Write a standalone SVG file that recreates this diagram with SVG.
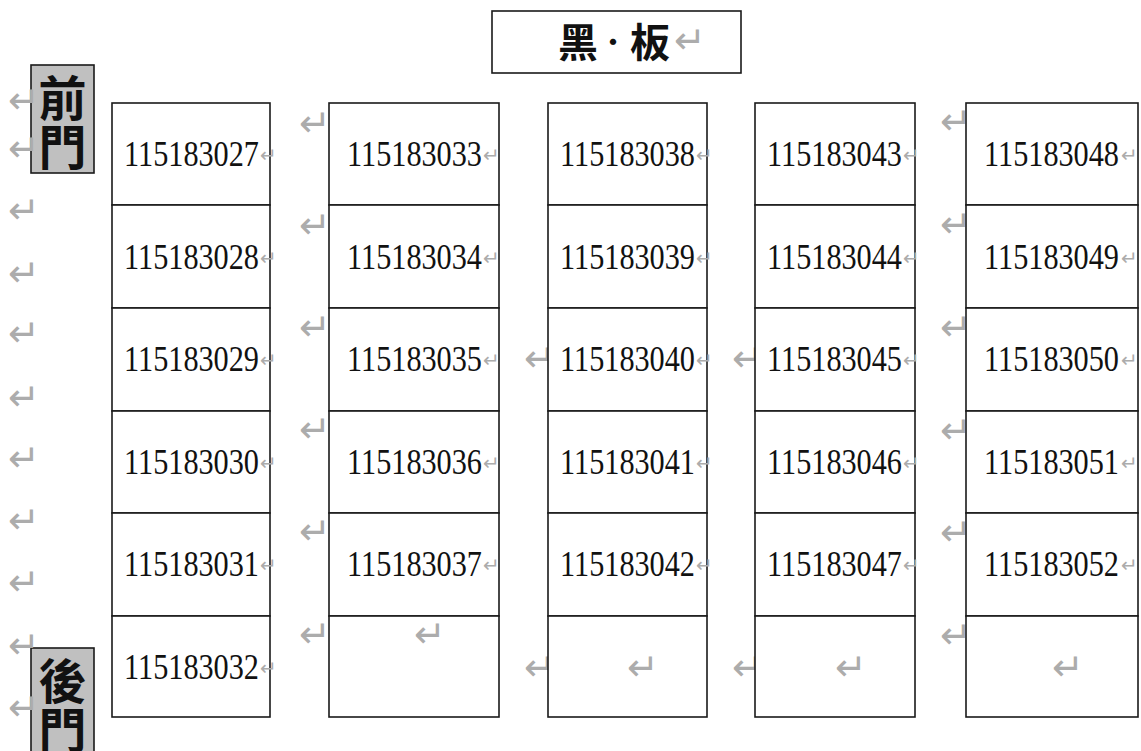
<svg xmlns="http://www.w3.org/2000/svg" width="1141" height="751" viewBox="0 0 1141 751">
<style>
.cell{fill:#fff;stroke:#1a1a1a;stroke-width:1.6}
.door{fill:#c0c0c0;stroke:#1a1a1a;stroke-width:1.6}
.num{font-family:"Liberation Serif",serif;font-size:35px;fill:#111}
.rm{font-family:"DejaVu Sans",sans-serif;font-size:38px;fill:#acacac;dominant-baseline:central}
.rs{font-family:"DejaVu Sans",sans-serif;font-size:20px;fill:#acacac;dominant-baseline:central}
.cjk{font-family:"Noto Sans CJK TC","Noto Sans CJK SC",sans-serif;font-weight:bold;fill:#111}
</style>
<rect width="1141" height="751" fill="#fff"/>
<g id="connectors"/>

<g id="blackboard">
<rect class="cell" x="492" y="11" width="249" height="62"/>
<text class="cjk" font-size="40" y="57"><tspan x="558">黑</tspan><tspan x="598" font-weight="normal" font-size="30" dy="-4">·</tspan><tspan x="630" dy="4">板</tspan></text>
<text class="rm" x="674" y="40" font-size="42">↵</text>
</g>

<g id="front-door">
<rect class="door" x="31" y="65" width="63" height="108"/>
<text class="cjk" font-size="48" text-anchor="middle" x="62.5" y="116">前</text>
<text class="cjk" font-size="48" text-anchor="middle" x="62.5" y="165">門</text>
</g>

<g id="back-door">
<rect class="door" x="31" y="648" width="63" height="120"/>
<text class="cjk" font-size="48" text-anchor="middle" x="62.5" y="699">後</text>
<text class="cjk" font-size="48" text-anchor="middle" x="62.5" y="748">門</text>
</g>

<g id="marks">
<text class="rm" x="8" y="100">↵</text>
<text class="rm" x="8" y="148">↵</text>
<text class="rm" x="8" y="210">↵</text>
<text class="rm" x="8" y="273">↵</text>
<text class="rm" x="8" y="333">↵</text>
<text class="rm" x="8" y="397">↵</text>
<text class="rm" x="8" y="458">↵</text>
<text class="rm" x="8" y="520">↵</text>
<text class="rm" x="8" y="582">↵</text>
<text class="rm" x="8" y="645">↵</text>
<text class="rm" x="8" y="707">↵</text>

<text class="rm" x="299" y="123">↵</text>
<text class="rm" x="299" y="225">↵</text>
<text class="rm" x="299" y="327">↵</text>
<text class="rm" x="299" y="429">↵</text>
<text class="rm" x="299" y="531">↵</text>
<text class="rm" x="299" y="634">↵</text>

<text class="rm" x="940" y="121">↵</text>
<text class="rm" x="940" y="224">↵</text>
<text class="rm" x="940" y="327">↵</text>
<text class="rm" x="940" y="430">↵</text>
<text class="rm" x="940" y="532">↵</text>
<text class="rm" x="940" y="635">↵</text>

<text class="rm" x="524" y="358">↵</text>
<text class="rm" x="732" y="358">↵</text>
<text class="rm" x="524" y="667">↵</text>
<text class="rm" x="732" y="667">↵</text>
</g>

<g id="col1">
<g id="s027"><rect class="cell" x="112" y="103" width="158" height="102"/><text class="num" x="124" y="166" textLength="135" lengthAdjust="spacingAndGlyphs">115183027</text><text class="rs" x="260" y="155">↵</text></g>
<g id="s028"><rect class="cell" x="112" y="205" width="158" height="103"/><text class="num" x="124" y="269" textLength="135" lengthAdjust="spacingAndGlyphs">115183028</text><text class="rs" x="260" y="258">↵</text></g>
<g id="s029"><rect class="cell" x="112" y="308" width="158" height="103"/><text class="num" x="124" y="371" textLength="135" lengthAdjust="spacingAndGlyphs">115183029</text><text class="rs" x="260" y="360">↵</text></g>
<g id="s030"><rect class="cell" x="112" y="411" width="158" height="102"/><text class="num" x="124" y="474" textLength="135" lengthAdjust="spacingAndGlyphs">115183030</text><text class="rs" x="260" y="463">↵</text></g>
<g id="s031"><rect class="cell" x="112" y="513" width="158" height="103"/><text class="num" x="124" y="576" textLength="135" lengthAdjust="spacingAndGlyphs">115183031</text><text class="rs" x="260" y="565">↵</text></g>
<g id="s032"><rect class="cell" x="112" y="616" width="158" height="101"/><text class="num" x="124" y="679" textLength="135" lengthAdjust="spacingAndGlyphs">115183032</text><text class="rs" x="260" y="668">↵</text></g>
</g>

<g id="col2">
<g id="s033"><rect class="cell" x="329" y="103" width="170" height="102"/><text class="num" x="347" y="166" textLength="135" lengthAdjust="spacingAndGlyphs">115183033</text><text class="rs" x="483" y="155">↵</text></g>
<g id="s034"><rect class="cell" x="329" y="205" width="170" height="103"/><text class="num" x="347" y="269" textLength="135" lengthAdjust="spacingAndGlyphs">115183034</text><text class="rs" x="483" y="258">↵</text></g>
<g id="s035"><rect class="cell" x="329" y="308" width="170" height="103"/><text class="num" x="347" y="371" textLength="135" lengthAdjust="spacingAndGlyphs">115183035</text><text class="rs" x="483" y="360">↵</text></g>
<g id="s036"><rect class="cell" x="329" y="411" width="170" height="102"/><text class="num" x="347" y="474" textLength="135" lengthAdjust="spacingAndGlyphs">115183036</text><text class="rs" x="483" y="463">↵</text></g>
<g id="s037"><rect class="cell" x="329" y="513" width="170" height="103"/><text class="num" x="347" y="576" textLength="135" lengthAdjust="spacingAndGlyphs">115183037</text><text class="rs" x="483" y="565">↵</text></g>
<g id="c2e"><rect class="cell" x="329" y="616" width="170" height="101"/><text class="rm" x="414" y="634">↵</text></g>
</g>

<g id="col3">
<g id="s038"><rect class="cell" x="548" y="103" width="159" height="102"/><text class="num" x="560" y="166" textLength="135" lengthAdjust="spacingAndGlyphs">115183038</text><text class="rs" x="696" y="155">↵</text></g>
<g id="s039"><rect class="cell" x="548" y="205" width="159" height="103"/><text class="num" x="560" y="269" textLength="135" lengthAdjust="spacingAndGlyphs">115183039</text><text class="rs" x="696" y="258">↵</text></g>
<g id="s040"><rect class="cell" x="548" y="308" width="159" height="103"/><text class="num" x="560" y="371" textLength="135" lengthAdjust="spacingAndGlyphs">115183040</text><text class="rs" x="696" y="360">↵</text></g>
<g id="s041"><rect class="cell" x="548" y="411" width="159" height="102"/><text class="num" x="560" y="474" textLength="135" lengthAdjust="spacingAndGlyphs">115183041</text><text class="rs" x="696" y="463">↵</text></g>
<g id="s042"><rect class="cell" x="548" y="513" width="159" height="103"/><text class="num" x="560" y="576" textLength="135" lengthAdjust="spacingAndGlyphs">115183042</text><text class="rs" x="696" y="565">↵</text></g>
<g id="c3e"><rect class="cell" x="548" y="616" width="159" height="101"/><text class="rm" x="627" y="667">↵</text></g>
</g>

<g id="col4">
<g id="s043"><rect class="cell" x="755" y="103" width="160" height="102"/><text class="num" x="767" y="166" textLength="135" lengthAdjust="spacingAndGlyphs">115183043</text><text class="rs" x="903" y="155">↵</text></g>
<g id="s044"><rect class="cell" x="755" y="205" width="160" height="103"/><text class="num" x="767" y="269" textLength="135" lengthAdjust="spacingAndGlyphs">115183044</text><text class="rs" x="903" y="258">↵</text></g>
<g id="s045"><rect class="cell" x="755" y="308" width="160" height="103"/><text class="num" x="767" y="371" textLength="135" lengthAdjust="spacingAndGlyphs">115183045</text><text class="rs" x="903" y="360">↵</text></g>
<g id="s046"><rect class="cell" x="755" y="411" width="160" height="102"/><text class="num" x="767" y="474" textLength="135" lengthAdjust="spacingAndGlyphs">115183046</text><text class="rs" x="903" y="463">↵</text></g>
<g id="s047"><rect class="cell" x="755" y="513" width="160" height="103"/><text class="num" x="767" y="576" textLength="135" lengthAdjust="spacingAndGlyphs">115183047</text><text class="rs" x="903" y="565">↵</text></g>
<g id="c4e"><rect class="cell" x="755" y="616" width="160" height="101"/><text class="rm" x="835" y="667">↵</text></g>
</g>

<g id="col5">
<g id="s048"><rect class="cell" x="966" y="103" width="172" height="102"/><text class="num" x="984" y="166" textLength="135" lengthAdjust="spacingAndGlyphs">115183048</text><text class="rs" x="1121" y="155">↵</text></g>
<g id="s049"><rect class="cell" x="966" y="205" width="172" height="103"/><text class="num" x="984" y="269" textLength="135" lengthAdjust="spacingAndGlyphs">115183049</text><text class="rs" x="1121" y="258">↵</text></g>
<g id="s050"><rect class="cell" x="966" y="308" width="172" height="103"/><text class="num" x="984" y="371" textLength="135" lengthAdjust="spacingAndGlyphs">115183050</text><text class="rs" x="1121" y="360">↵</text></g>
<g id="s051"><rect class="cell" x="966" y="411" width="172" height="102"/><text class="num" x="984" y="474" textLength="135" lengthAdjust="spacingAndGlyphs">115183051</text><text class="rs" x="1121" y="463">↵</text></g>
<g id="s052"><rect class="cell" x="966" y="513" width="172" height="103"/><text class="num" x="984" y="576" textLength="135" lengthAdjust="spacingAndGlyphs">115183052</text><text class="rs" x="1121" y="565">↵</text></g>
<g id="c5e"><rect class="cell" x="966" y="616" width="172" height="101"/><text class="rm" x="1052" y="667">↵</text></g>
</g>
</svg>
